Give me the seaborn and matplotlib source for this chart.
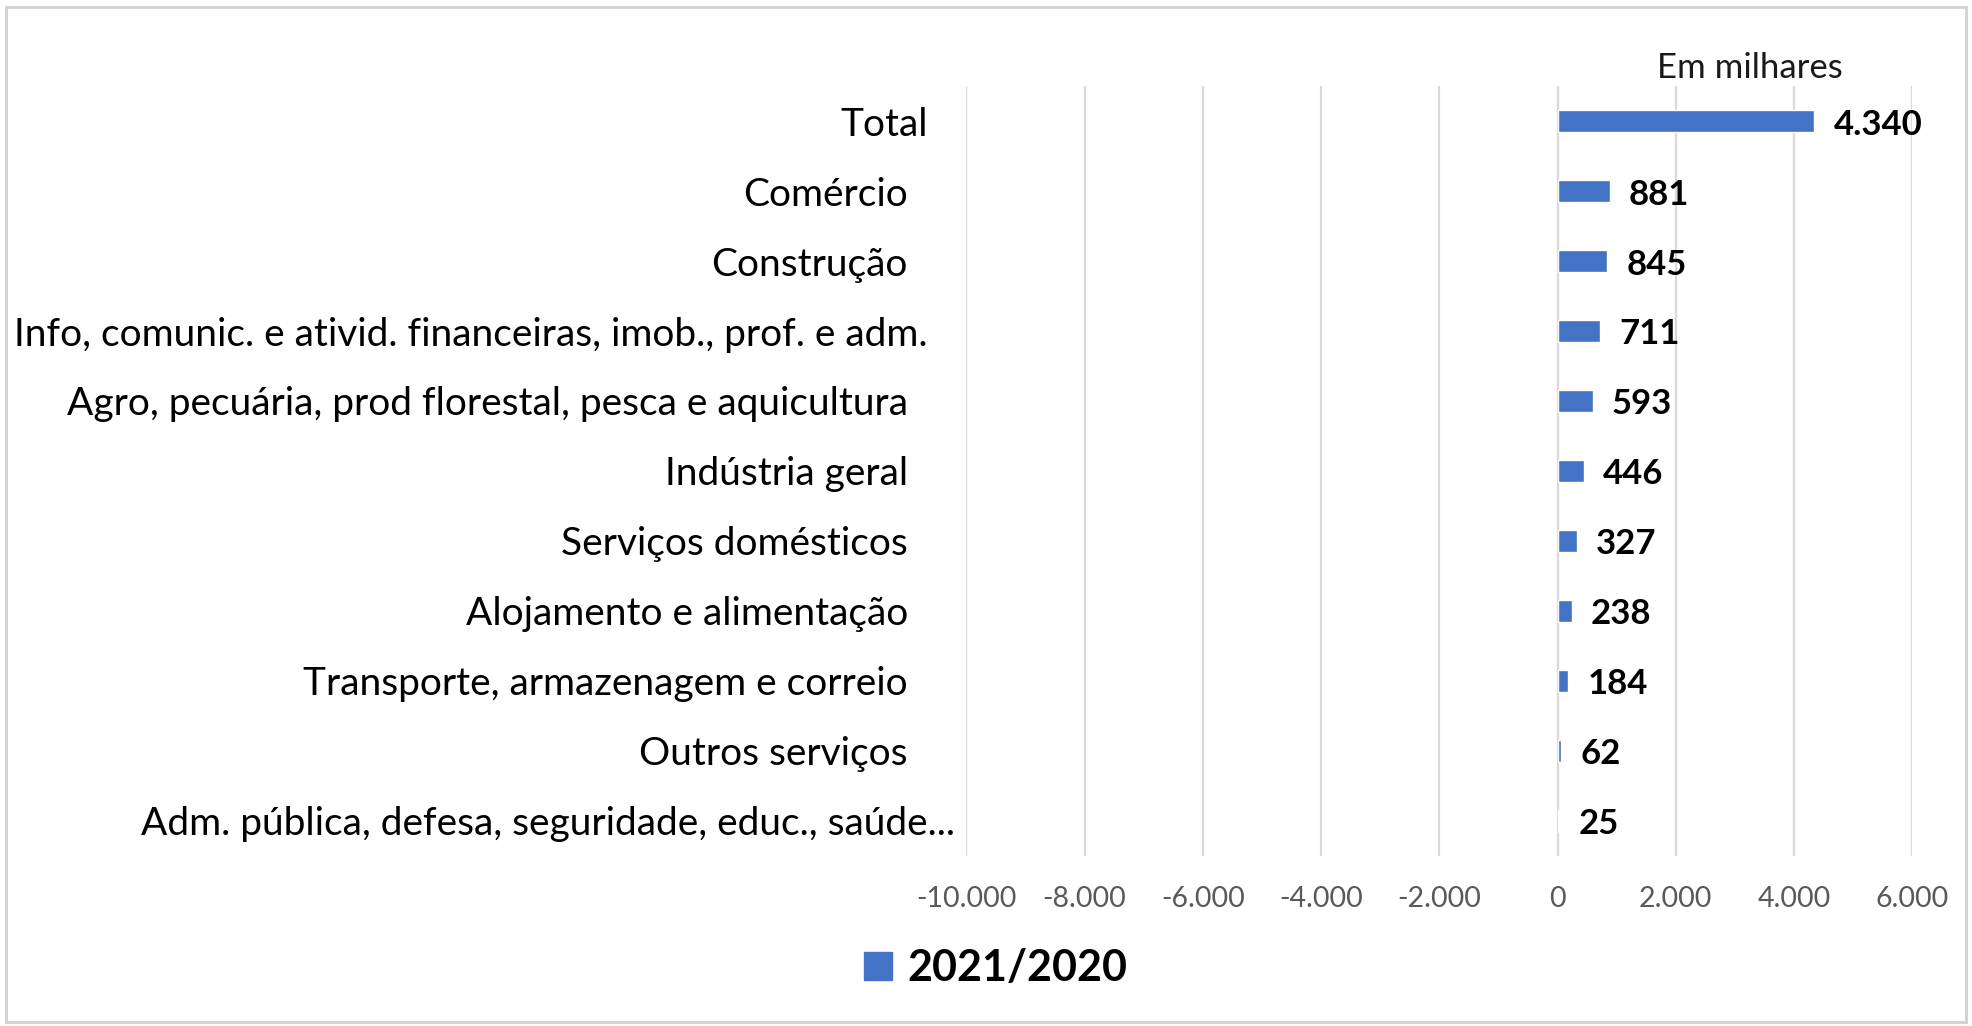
import matplotlib
matplotlib.use("Agg")
import matplotlib.pyplot as plt
import matplotlib.transforms as mtransforms
import seaborn as sns
import pandas as pd
from matplotlib.patches import Rectangle, Patch

# data (em milhares), variacao 2021/2020
categorias = [
    "Total",
    "Comércio",
    "Construção",
    "Info, comunic. e ativid. financeiras, imob., prof. e adm.",
    "Agro, pecuária, prod florestal, pesca e aquicultura",
    "Indústria geral",
    "Serviços domésticos",
    "Alojamento e alimentação",
    "Transporte, armazenagem e correio",
    "Outros serviços",
    "Adm. pública, defesa, seguridade, educ., saúde...",
]
valores = [4340, 881, 845, 711, 593, 446, 327, 238, 184, 62, 25]
xticks = [-10000, -8000, -6000, -4000, -2000, 0, 2000, 4000, 6000]
serie = "2021/2020"

# extra right gap of each category label (pt), as in the excel export
recuo = [20, 34, 34, 20, 34, 34, 34, 34, 34, 34, 0]

sns.set_style("white")
plt.rcParams['font.family'] = ['Lato', 'DejaVu Sans']

df = pd.DataFrame({"cat": categorias, "val": valores})
cor = "#4472C4"

fig = plt.figure(figsize=(19.72, 10.26), dpi=100)
ax = fig.add_axes([0.490, 0.166, 0.4797, 0.750])

sns.barplot(data=df, x="val", y="cat", orient="h", color=cor, width=0.31,
            saturation=1, ax=ax)

ax.set_xlim(-10000, 6000)
ax.set_xticks(xticks)
ax.set_xticklabels([f"{v:,}".replace(",", ".") for v in xticks],
                   color="#595959", fontsize=20.5)
ax.tick_params(axis="x", length=0, pad=22)
ax.tick_params(axis="y", length=0, pad=8, labelsize=28, labelcolor="black")
ax.set_xlabel("")
ax.set_ylabel("")
ax.grid(axis="x", color="#d9d9d9", lw=1.6)
ax.set_axisbelow(True)
for s in ax.spines.values():
    s.set_visible(False)

for lab, r in zip(ax.get_yticklabels(), recuo):
    lab.set_transform(lab.get_transform() +
                      mtransforms.ScaledTranslation(-r / 72, 0, fig.dpi_scale_trans))

labs = [f"{v:,}".replace(",", ".") for v in valores]
anns = ax.bar_label(ax.containers[0], labels=labs, padding=14, fontsize=25,
                    fontweight="bold", color="black")
for a in anns:
    a.set_position((14, -2.5))  # lato digits sit a bit high

fig.text(0.8875, 0.934, "Em milhares", ha="center", va="center", fontsize=25,
         color="#1a1a1a")

fig.legend(handles=[Patch(color=cor, label=serie)], loc="center",
           bbox_to_anchor=(0.505, 0.0565), frameon=False, handlelength=0.65,
           handleheight=0.65, handletextpad=0.35, labelcolor="black",
           prop={"size": 31, "weight": "bold"})

fig.patches.append(Rectangle((0.003, 0.004), 0.994, 0.989, transform=fig.transFigure,
                             fill=False, edgecolor="#d0d0d0", lw=2))

fig.savefig("out.png", dpi=100, facecolor="white")
